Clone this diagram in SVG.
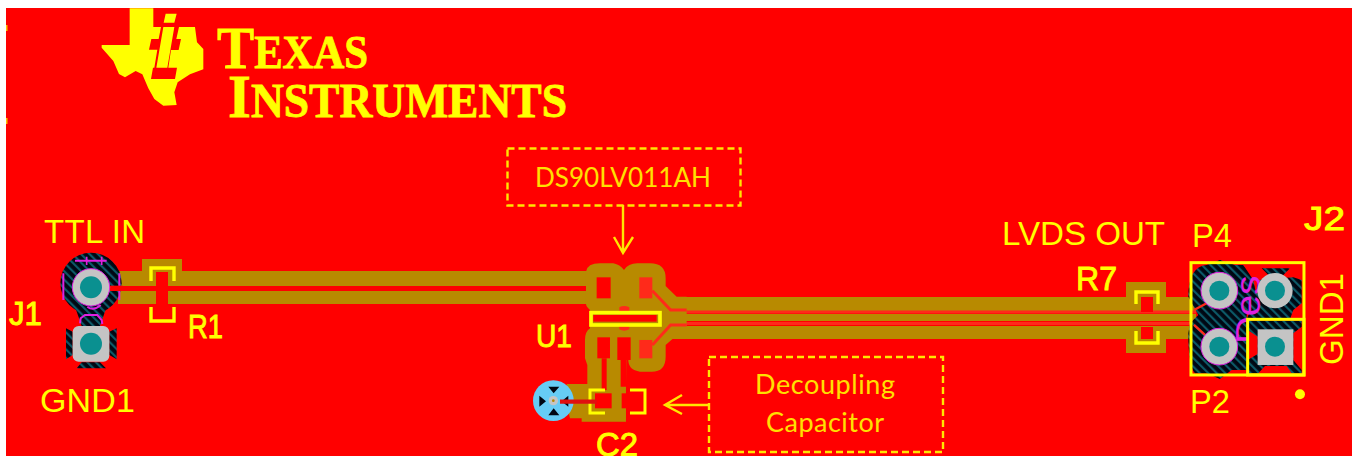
<svg xmlns="http://www.w3.org/2000/svg" width="1352" height="456" viewBox="0 0 1352 456">
<style>
.sans{font-family:"Liberation Sans",Arial,sans-serif;fill:#ffff00}
.hv{stroke:#ffff00;stroke-width:.9}
.call{font-family:Lato,"Open Sans",sans-serif;fill:#ffe000;font-size:27px;text-anchor:middle}
.logo{font-family:"Liberation Serif","Times New Roman",serif;font-weight:bold;fill:#ffff00;stroke:#ffff00;stroke-width:.8}
.gold{fill:#b88a00}
.box{fill:none;stroke:#ffe600;stroke-width:2.4;stroke-dasharray:7 4}
.arr{fill:none;stroke:#ffe600;stroke-width:2.4}
.silk{fill:none;stroke:#ffff00;stroke-width:3.4}
.hole{fill:#0a9090}
.pad{fill:#c4c4c4}
.ol{fill:none;stroke:#e020e0;stroke-width:6}
</style>
<defs>
<pattern id="hatch" width="18" height="18" patternUnits="userSpaceOnUse" patternTransform="rotate(-45)">
<rect width="18" height="18" fill="#000814"/><rect width="6.500" height="18" fill="#0c5a68"/>
</pattern>
</defs>
<rect width="1352" height="456" fill="#ffffff"/>
<rect x="6" y="8" width="1346" height="448" fill="#ff0000"/>
<rect x="6" y="25" width="1.500" height="6" fill="#ffc000"/>
<rect x="6" y="118" width="1.500" height="6" fill="#ffc000"/>

<g id="ti-logo">
<g transform="translate(95 5) scale(.3333)">
<path fill="#ffff00" d="M104,10 L175,10 L175,66 L300,66 L306,112 L325,132 L325,193 L285,208 L248,232 L238,262 L245,300 L205,302 L178,282 L160,250 L142,208 L122,198 L90,217 L72,207 L55,168 L20,128 L20,120 L104,120 Z"/>
<path fill="#ff0000" d="M198,66 L252,66 L244,102 L258,102 L251,135 L228,135 L220,188 L246,188 L240,222 L168,222 L174,188 L178,188 L187,134 L162,134 L169,102 L191,102 Z"/>
<path fill="#ffff00" d="M212,26 L245,26 L238,53 L206,53 Z M205,66 L238,66 L217,188 L184,188 Z"/>
</g>
<text class="logo" x="217" y="68" textLength="151" lengthAdjust="spacingAndGlyphs"><tspan font-size="60">T</tspan><tspan font-size="46">EXAS</tspan></text>
<text class="logo" x="228" y="117" textLength="339" lengthAdjust="spacingAndGlyphs"><tspan font-size="62">I</tspan><tspan font-size="48">NSTRUMENTS</tspan></text>
</g>

<g id="connectors">
<rect class="gold" x="118" y="271" width="475" height="15"/>
<rect class="gold" x="118" y="291" width="475" height="13"/>
<rect x="110" y="286" width="490" height="5" fill="#ff0000"/>
<rect class="gold" x="142" y="259" width="40" height="13"/>
<rect class="gold" x="666" y="297" width="530" height="14"/>
<rect class="gold" x="666" y="314" width="530" height="7"/>
<rect class="gold" x="666" y="326" width="530" height="13"/>
<rect class="gold" x="1126" y="282" width="40" height="16"/>
<rect class="gold" x="1126" y="338" width="40" height="15"/>
<path d="M666,312 H1196 M666,323.500 H1196" stroke="#ff2a1a" stroke-width="3" fill="none"/>
<path class="arr" d="M623,205 V253 M614,237 L623,253 L633,237"/>
<path class="arr" d="M709,405 H666 M682,395 L665,405 L682,414"/>
</g>

<g id="R1">
<rect x="156" y="272" width="12" height="14" fill="#ff0000"/>
<rect x="156" y="291" width="12" height="16" fill="#ff0000"/>
<path class="silk" d="M151,281 V268 H174 V281"/>
<path class="silk" d="M151,307 V321 H174 V307"/>
<text class="sans hv" x="188" y="338" font-size="33" textLength="35" lengthAdjust="spacingAndGlyphs">R1</text>
</g>

<g id="U1">
<g transform="translate(500 230) scale(.3333)">
<path class="gold" d="M258,125 Q262,100 300,100 L340,100 Q360,104 372,120 Q385,100 412,100 L450,100 Q497,100 497,145 L497,168 L530,200 L560,200 L560,325 L520,325 L497,345 L497,380 Q497,425 455,425 L420,425 Q385,420 385,390 L380,390 L378,460 L378,575 L245,575 L245,565 L210,565 L200,525 L200,510 L200,462 L262,462 L262,405 L255,385 L255,330 Q255,305 270,295 L270,240 Q258,230 258,222 Z"/>
<rect x="290" y="142" width="42" height="63" fill="#ff0000"/>
<rect x="418" y="142" width="39" height="63" fill="#ff2a1a"/>
<rect x="418" y="330" width="39" height="55" fill="#ff2a1a"/>
<rect x="292" y="322" width="38" height="63" fill="#ff0000"/>
<rect x="352" y="322" width="40" height="68" fill="#ff0000"/>
<path d="M305,385 H320 V480 H305 Z M362,385 H380 V470 H362 Z" fill="#ff0000"/>
<path d="M457,182 L512,240 L560,240 M457,345 L512,285 L560,285" fill="none" stroke="#ff2a1a" stroke-width="9"/>
<path d="M358,232 Q372,224 388,232 L388,298 Q372,306 358,298 Z" fill="#ff2a1a"/>
<rect x="273" y="248" width="207" height="37" fill="#b88a00" stroke="#ffff00" stroke-width="11"/>
<rect x="280" y="255" width="190" height="20" fill="#ff0000"/>
</g>
<text class="sans hv" x="536" y="347" font-size="31" textLength="36" lengthAdjust="spacingAndGlyphs">U1</text>
</g>

<g id="C2">
<g transform="translate(500 230) scale(.3333)">
<rect x="285" y="490" width="50" height="45" fill="#ff0000"/>
<rect x="378" y="460" width="40" height="115" fill="#ff0000"/>
<rect x="365" y="490" width="50" height="45" fill="#ff0000"/>
<path d="M315,480 H270 V549 H315 M390,480 H435 V549 H390" fill="none" stroke="#ffff00" stroke-width="9"/>
</g>
<text class="sans hv" x="596" y="456" font-size="33" textLength="42" lengthAdjust="spacingAndGlyphs">C2</text>
</g>

<g id="via">
<g transform="translate(500 230) scale(.3333)">
<circle cx="160" cy="512" r="61" fill="#66ccf5"/>
<path d="M145,470 H178 L161,490 Z M145,556 H178 L161,535 Z M118,497 L138,514 L118,530 Z M205,497 L185,514 L205,530 Z" fill="#000814"/>
<circle cx="160" cy="512" r="14" fill="#c4c4c4"/>
<circle cx="160" cy="512" r="4" fill="#b88a00"/>
<path d="M180,515 H290" stroke="#e01010" stroke-width="13" fill="none"/>
</g>
</g>

<g id="J1">
<g transform="translate(50 250) scale(.3333)">
<circle cx="123" cy="100" r="92" fill="url(#hatch)"/>
<path d="M75,170 H170 L150,228 H95 Z" fill="url(#hatch)"/>
<path d="M48,235 L68,245 V315 L48,328 Z M200,235 L178,245 V315 L200,328 Z M80,355 L95,337 H150 L168,355 Z" fill="url(#hatch)"/>
<path class="ol" d="M40,150 V70 M208,70 V150 M75,32 H170 M112,170 Q130,185 152,165 M90,220 L92,205 L105,195 H142 L155,210 L157,222"/>
<path d="M110,20 V45 M155,20 V45" stroke="#e020e0" stroke-width="5"/>
<path d="M170,115 H218" stroke="#ff0000" stroke-width="16"/>
<circle cx="123" cy="112" r="56" class="pad" stroke="#e020e0" stroke-width="3"/>
<circle cx="123" cy="112" r="33" class="hole"/>
<rect x="68" y="228" width="110" height="107" rx="18" class="pad"/>
<circle cx="123" cy="281" r="33" class="hole"/>
</g>
<text class="sans" x="44" y="243" font-size="33" textLength="101">TTL IN</text>
<text class="sans hv" x="9" y="325" font-size="33" textLength="33" lengthAdjust="spacingAndGlyphs">J1</text>
<text class="sans" x="40" y="412" font-size="34" textLength="95">GND1</text>
</g>

<g id="R7">
<rect x="1141" y="297" width="12" height="15" fill="#ff0000"/>
<rect x="1141" y="327" width="12" height="12" fill="#ff0000"/>
<path class="silk" d="M1136,304 V292 H1158 V304"/>
<path class="silk" d="M1136,331 V343 H1158 V331"/>
<text class="sans hv" x="1076" y="290" font-size="33" textLength="41" lengthAdjust="spacingAndGlyphs">R7</text>
<text class="sans" x="1002" y="245" font-size="33" textLength="163" lengthAdjust="spacingAndGlyphs">LVDS OUT</text>
</g>

<g id="J2">
<g transform="translate(1110 200) scale(.3333)">
<path d="M235,290 Q235,200 290,195 L330,180 L375,195 H400 L430,240 L450,340 H410 V510 H365 L330,537 L290,520 H255 Q235,500 235,400 L240,370 L265,345 Z" fill="url(#hatch)"/>
<path d="M455,205 H540 L520,225 H475 Z M550,232 L575,240 V310 L550,330 L540,358 H410 L435,300 L445,240 Z" fill="url(#hatch)"/>
<path d="M252,330 L290,310 M252,375 L285,405" stroke="#ff2a1a" stroke-width="7" fill="none"/>
<text transform="translate(450 432) rotate(-90)" font-family="Liberation Sans,sans-serif" font-size="105" fill="#e020e0" textLength="205" lengthAdjust="spacingAndGlyphs">Des</text>
<path d="M413,358 H580 V525 H413 Z" fill="#ff0000"/>
<path d="M413,362 H575 V380 L550,400 V480 L575,510 V520 H545 L530,498 H465 L445,520 H413 V480 L443,462 V410 L413,390 Z" fill="url(#hatch)"/>
<circle cx="328" cy="272" r="55" class="pad" stroke="#e020e0" stroke-width="3"/>
<circle cx="328" cy="272" r="30" class="hole"/>
<circle cx="495" cy="272" r="53" class="pad"/>
<circle cx="495" cy="272" r="30" class="hole"/>
<circle cx="328" cy="440" r="55" class="pad" stroke="#e020e0" stroke-width="3"/>
<circle cx="328" cy="440" r="30" class="hole"/>
<rect x="443" y="388" width="107" height="107" class="pad"/>
<circle cx="495" cy="440" r="30" class="hole"/>
<rect x="243" y="188" width="339" height="337" fill="none" stroke="#ffff00" stroke-width="9"/>
<rect x="413" y="358" width="169" height="167" fill="none" stroke="#ffff00" stroke-width="9"/>
<circle cx="570" cy="583" r="15" fill="#ffff00"/>
</g>
<text class="sans" x="1192" y="247" font-size="33" textLength="40" lengthAdjust="spacingAndGlyphs">P4</text>
<text class="sans" x="1190" y="413" font-size="33" textLength="40" lengthAdjust="spacingAndGlyphs">P2</text>
<text class="sans hv" x="1304" y="230" font-size="33" textLength="41" lengthAdjust="spacingAndGlyphs">J2</text>
<text class="sans" transform="translate(1343 365) rotate(-90)" font-size="33" textLength="92" lengthAdjust="spacingAndGlyphs">GND1</text>
</g>

<g id="callout-ds90">
<rect class="box" x="507.500" y="148.500" width="233" height="57"/>
<text class="call" x="623" y="187" textLength="176" lengthAdjust="spacingAndGlyphs">DS90LV011AH</text>
</g>
<g id="callout-decoupling">
<rect class="box" x="709" y="357" width="234" height="95"/>
<text class="call" x="825" y="394" textLength="140">Decoupling</text>
<text class="call" x="825" y="432" textLength="118">Capacitor</text>
</g>
</svg>
